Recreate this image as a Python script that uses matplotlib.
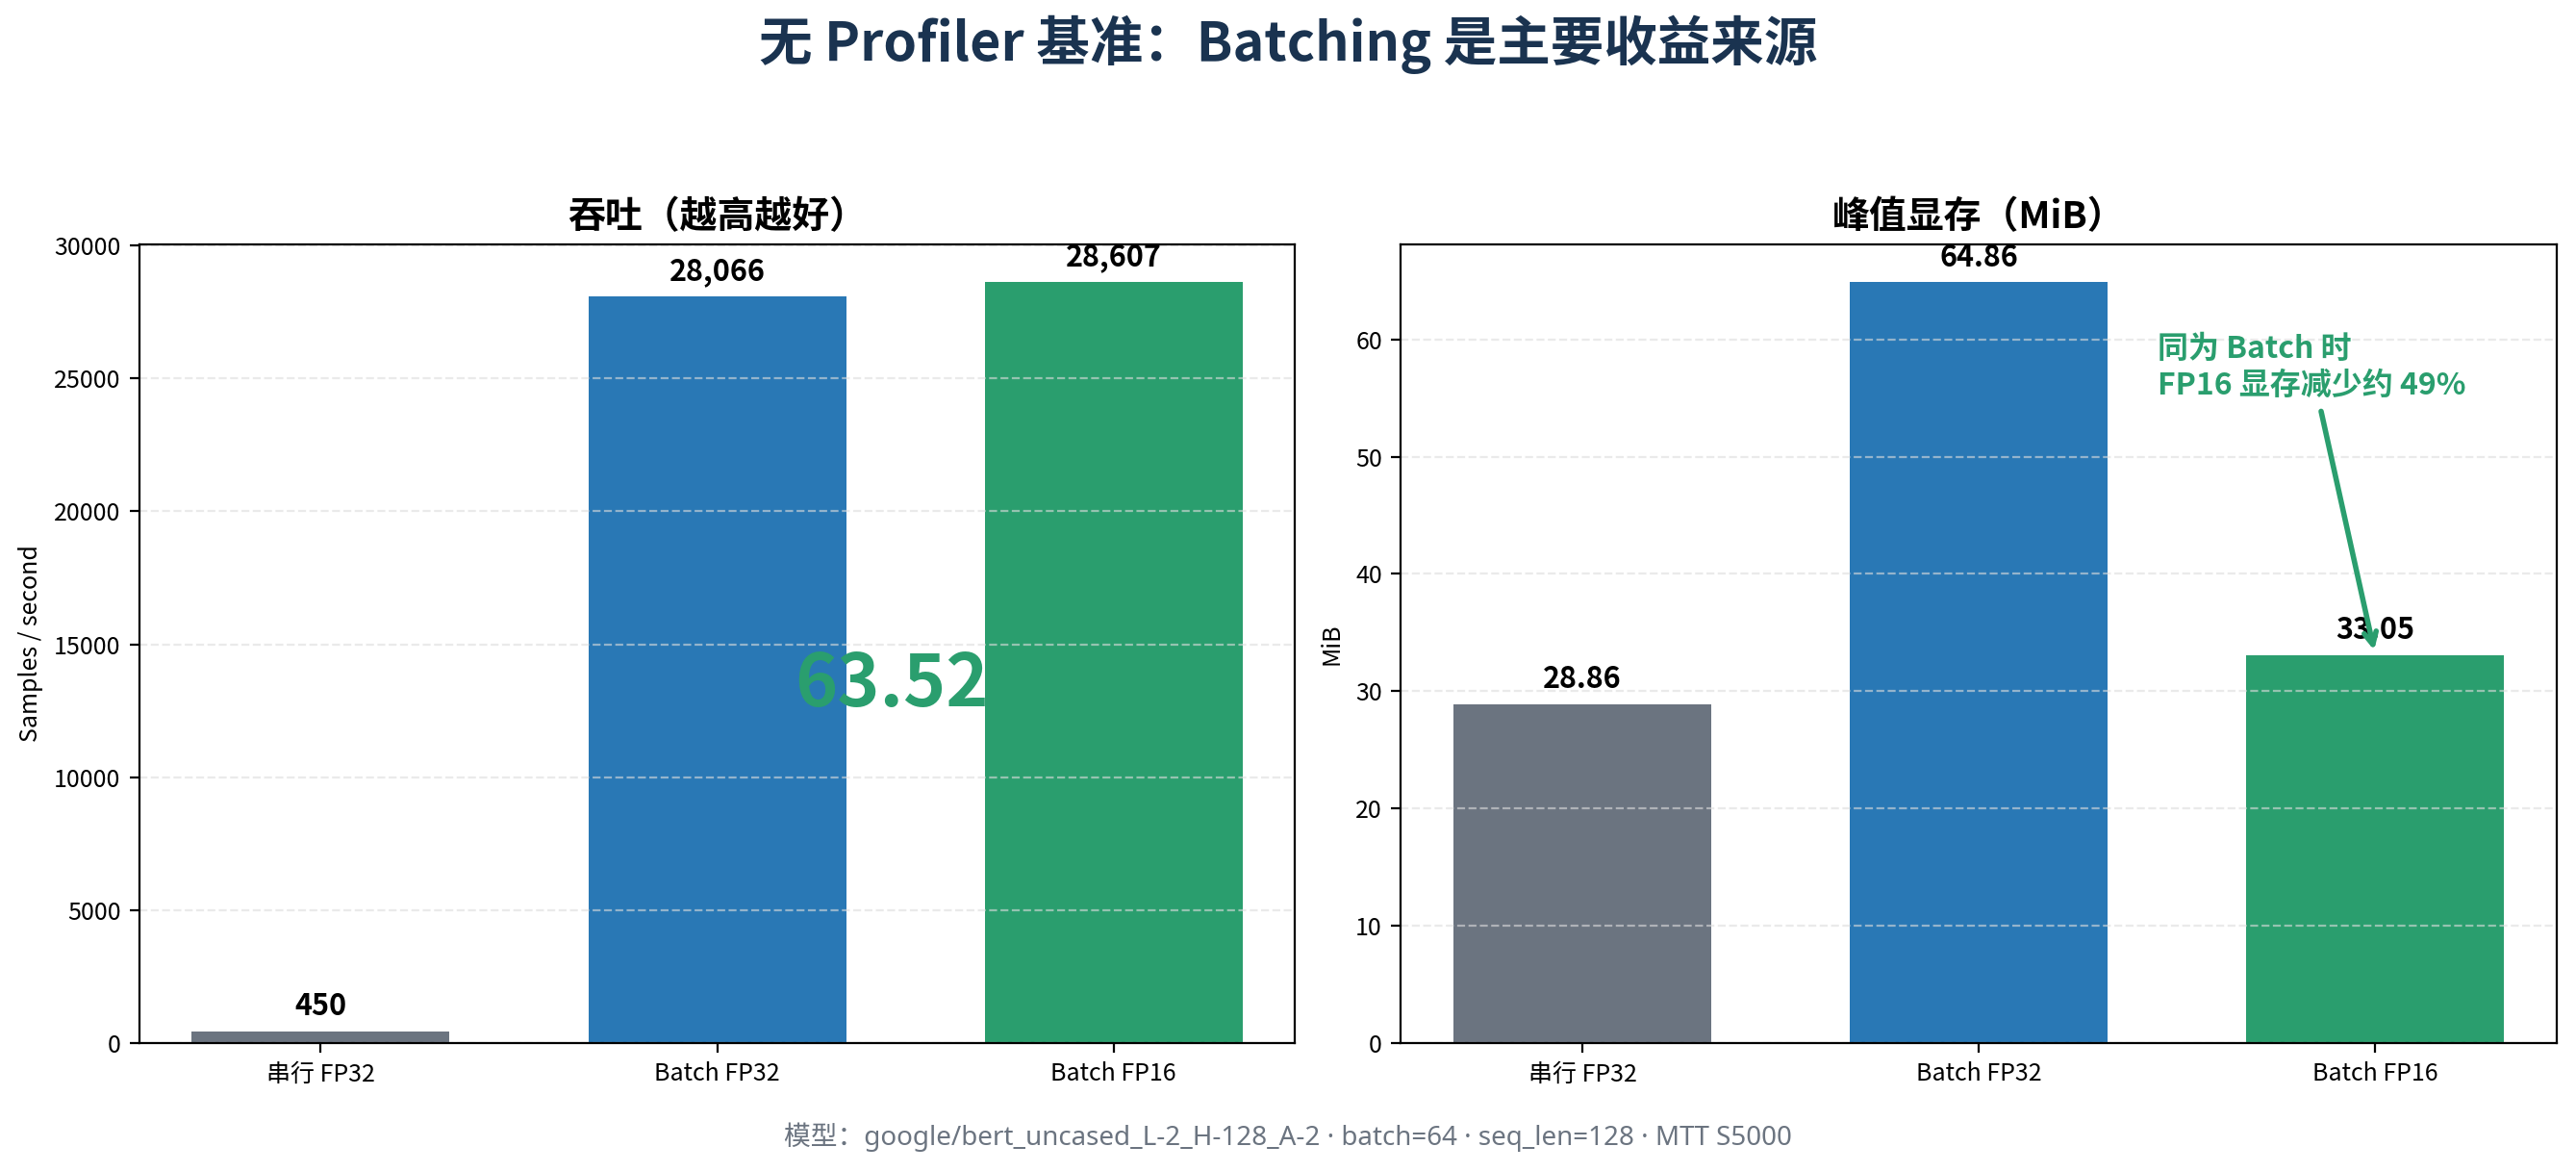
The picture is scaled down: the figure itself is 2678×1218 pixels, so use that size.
import matplotlib
matplotlib.use("Agg")
import matplotlib.pyplot as plt

plt.rcParams['font.family'] = ['Noto Sans CJK SC', 'DejaVu Sans']
plt.rcParams['axes.unicode_minus'] = False

# data
labels = ['串行 FP32', 'Batch FP32', 'Batch FP16']
throughput = [450, 28066, 28607]
memory = [28.86, 64.86, 33.05]
speedup_text = '63.52'
colors = ['#6b7480', '#2978b5', '#2a9e6e']

fig, (ax1, ax2) = plt.subplots(1, 2, figsize=(13.39, 6.09), dpi=200)
fig.subplots_adjust(left=0.0541, right=0.9925, bottom=0.110, top=0.7915, wspace=0.0916)

# throughput
x = range(len(labels))
ax1.bar(x, throughput, width=0.65, color=colors)
ymax1 = max(throughput) * 1.05
ax1.set_ylim(0, ymax1)
for i, v in enumerate(throughput):
    ax1.text(i, v + ymax1 * 0.012, f'{v:,}', ha='center', va='bottom',
             fontsize=11, fontweight='bold')
ax1.set_xticks(list(x))
ax1.set_xticklabels(labels)
ax1.set_ylabel('Samples / second', fontsize=9)
ax1.set_title('吞吐（越高越好）', fontsize=14, fontweight='bold')
ax1.grid(axis='y', linestyle='--', color='#dddddd', alpha=0.6)
ax1.text(1.44, max(throughput) * 0.47, speedup_text, ha='center', va='center',
         fontsize=27, fontweight='bold', color='#2a9e6e')

# memory
ax2.bar(x, memory, width=0.65, color=colors)
ymax2 = max(memory) * 1.05
ax2.set_ylim(0, ymax2)
for i, v in enumerate(memory):
    ax2.text(i, v + ymax2 * 0.012, f'{v:.2f}', ha='center', va='bottom',
             fontsize=11, fontweight='bold')
ax2.set_xticks(list(x))
ax2.set_xticklabels(labels)
ax2.set_ylabel('MiB', fontsize=9)
ax2.set_title('峰值显存（MiB）', fontsize=14, fontweight='bold')
ax2.grid(axis='y', linestyle='--', color='#dddddd', alpha=0.6)
ax2.annotate('同为 Batch 时\nFP16 显存减少约 49%', xy=(2, memory[2]),
             xytext=(1.45, 57.6), ha='left', va='center',
             fontsize=11.5, fontweight='bold', color='#2a9e6e',
             arrowprops=dict(arrowstyle='->', color='#2a9e6e', lw=2))

for ax in (ax1, ax2):
    ax.tick_params(labelsize=9)

fig.suptitle('无 Profiler 基准：Batching 是主要收益来源', fontsize=20,
             fontweight='bold', color='#1a3350', y=0.962, va='center')
fig.text(0.5, 0.0296, '模型：google/bert_uncased_L-2_H-128_A-2 · batch=64 · seq_len=128 · MTT S5000',
         ha='center', va='center', fontsize=10, color='#6b7480',
         family=['Noto Sans', 'Noto Sans CJK SC'])

fig.savefig('out.png', dpi=200)
